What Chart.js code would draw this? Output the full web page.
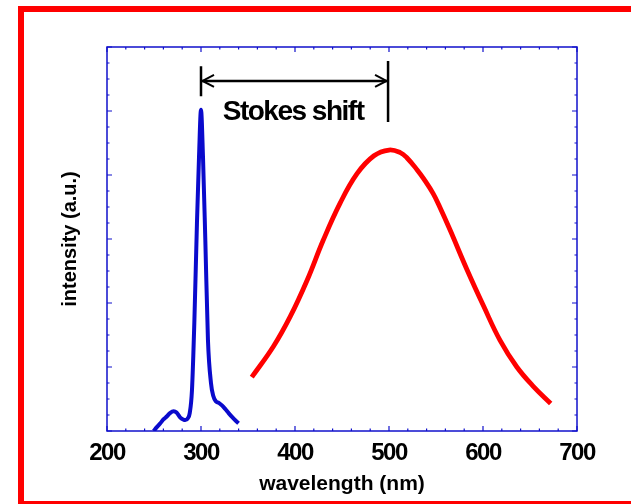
<!DOCTYPE html>
<html>
<head>
<meta charset="utf-8">
<script src="https://cdn.jsdelivr.net/npm/chart.js@4"></script>
<style>
  html, body { margin: 0; padding: 0; background: #fff; }
</style>
</head>
<body>
<canvas id="chart" width="631" height="504"></canvas>
<script>
const X_MIN = 200, X_MAX = 700;
const Y_MIN = 0, Y_MAX = 6;

// excitation band (blue)
const excWavelength = [249.6, 253, 256.7, 260, 263.8, 267, 270.9, 274, 278, 281, 283.3, 286, 288, 290.4, 292.9, 295.7, 297.9, 300, 302.1, 304.6, 307.4, 310.6, 313, 316, 319, 322.3, 326, 329.4, 333, 337, 340];
const excIntensity  = [0.0, 0.06, 0.12, 0.18, 0.23, 0.28, 0.31, 0.29, 0.21, 0.18, 0.17, 0.2, 0.28, 0.64, 1.69, 3.25, 4.29, 5.02, 4.29, 2.98, 1.42, 0.75, 0.55, 0.46, 0.44, 0.4, 0.34, 0.28, 0.22, 0.16, 0.12];

// emission band (red)
const emWavelength = [354, 377, 395, 413, 430, 448, 466, 484, 500, 512, 519, 530, 537, 547, 554, 565, 583, 601, 618, 636, 654, 672];
const emIntensity  = [0.84, 1.32, 1.79, 2.36, 2.98, 3.56, 4.02, 4.30, 4.39, 4.35, 4.27, 4.08, 3.94, 3.71, 3.50, 3.14, 2.52, 1.94, 1.42, 1.0, 0.69, 0.43];

// Stokes shift marker
const shiftFrom = 300, shiftTo = 499;
const shiftLeftBar = [5.23, 5.70];
const shiftRightBar = [4.83, 5.78];
const shiftArrowY = 5.47;
const shiftLabel = 'Stokes shift';
const shiftLabelAt = [398, 4.86];

const FONT = '"Liberation Sans", Arial, sans-serif';
const AXIS_BLUE = '#1010cc';

const toXY = (xs, ys) => xs.map((x, i) => ({ x, y: ys[i] }));

const framePlugin = {
  id: 'frame',
  beforeDraw(chart) {
    const { ctx, width, height } = chart;
    ctx.save();
    ctx.fillStyle = '#fff';
    ctx.fillRect(0, 0, width, height);
    ctx.strokeStyle = '#ff0000';
    ctx.lineWidth = 6;
    ctx.strokeRect(21, 9, width, height - 9);
    ctx.restore();

    // tick numbers in the original are set tight
    const xs = chart.scales.x;
    if (!xs._tight) {
      const drawLabels = xs.drawLabels;
      xs.drawLabels = function (area) {
        this.ctx.letterSpacing = '-1.5px';
        drawLabels.call(this, area);
        this.ctx.letterSpacing = '0px';
      };
      xs._tight = true;
    }
  },
  beforeDatasetsDraw(chart) {
    const { ctx, chartArea: a, scales: { x, y } } = chart;
    ctx.save();
    ctx.strokeStyle = AXIS_BLUE;
    ctx.lineWidth = 1.5;
    ctx.strokeRect(a.left, a.top, a.right - a.left, a.bottom - a.top);
    ctx.lineWidth = 1.2;
    ctx.beginPath();
    for (let v = X_MIN; v <= X_MAX; v += 20) {
      const px = x.getPixelForValue(v);
      const len = v % 100 === 0 ? 5 : 2.5;
      ctx.moveTo(px, a.bottom); ctx.lineTo(px, a.bottom - len);
      ctx.moveTo(px, a.top); ctx.lineTo(px, a.top + len);
    }
    for (let v = Y_MIN; v <= Y_MAX + 1e-9; v += 0.25) {
      const py = y.getPixelForValue(v);
      const len = Math.abs(v - Math.round(v)) < 1e-9 ? 5 : 2.5;
      ctx.moveTo(a.left, py); ctx.lineTo(a.left + len, py);
      ctx.moveTo(a.right, py); ctx.lineTo(a.right - len, py);
    }
    ctx.stroke();
    ctx.restore();
  },
  afterDatasetsDraw(chart) {
    const { ctx, scales: { x, y } } = chart;
    const x1 = x.getPixelForValue(shiftFrom), x2 = x.getPixelForValue(shiftTo);
    const ay = y.getPixelForValue(shiftArrowY);
    ctx.save();
    ctx.strokeStyle = '#000';
    ctx.lineWidth = 2.5;
    ctx.beginPath();
    ctx.moveTo(x1, y.getPixelForValue(shiftLeftBar[0])); ctx.lineTo(x1, y.getPixelForValue(shiftLeftBar[1]));
    ctx.moveTo(x2, y.getPixelForValue(shiftRightBar[0])); ctx.lineTo(x2, y.getPixelForValue(shiftRightBar[1]));
    ctx.moveTo(x1 + 1, ay); ctx.lineTo(x2 - 1, ay);
    ctx.stroke();
    ctx.lineWidth = 2;
    ctx.beginPath();
    ctx.moveTo(x1 + 13, ay - 6); ctx.lineTo(x1 + 1.5, ay); ctx.lineTo(x1 + 13, ay + 6);
    ctx.moveTo(x2 - 13, ay - 6); ctx.lineTo(x2 - 1.5, ay); ctx.lineTo(x2 - 13, ay + 6);
    ctx.stroke();
    ctx.fillStyle = '#000';
    ctx.font = 'bold 28px ' + FONT;
    ctx.letterSpacing = '-1.5px';
    ctx.textAlign = 'center';
    ctx.textBaseline = 'alphabetic';
    ctx.fillText(shiftLabel, x.getPixelForValue(shiftLabelAt[0]), y.getPixelForValue(shiftLabelAt[1]));
    ctx.restore();
  }
};

new Chart(document.getElementById('chart'), {
  type: 'line',
  data: {
    datasets: [
      { label: 'excitation', data: toXY(excWavelength, excIntensity), borderColor: '#0a0acc', borderWidth: 4, pointRadius: 0, cubicInterpolationMode: 'monotone', fill: false },
      { label: 'emission', data: toXY(emWavelength, emIntensity), borderColor: '#ff0000', borderWidth: 4.8, pointRadius: 0, tension: 0.4, fill: false }
    ]
  },
  options: {
    responsive: false,
    animation: false,
    layout: { padding: { top: 47, right: 54, left: 0, bottom: 0 } },
    plugins: { legend: { display: false }, tooltip: { enabled: false } },
    scales: {
      x: {
        type: 'linear', min: X_MIN, max: X_MAX,
        afterFit(s) { s.height = 73; },
        grid: { display: false, drawTicks: false },
        border: { display: false },
        ticks: { stepSize: 100, color: '#000', padding: 8, font: { family: FONT, size: 24, weight: 'bold' } },
        title: { display: true, text: 'wavelength (nm)', color: '#000', padding: { top: 0, bottom: 7 }, font: { family: FONT, size: 21, weight: 'bold' } }
      },
      y: {
        type: 'linear', min: Y_MIN, max: Y_MAX,
        afterFit(s) { s.width = 107; },
        grid: { display: false, drawTicks: false },
        border: { display: false },
        ticks: { display: false },
        title: { display: true, text: 'intensity (a.u.)', color: '#000', padding: { top: 58.5, bottom: 0 }, font: { family: FONT, size: 20, weight: 'bold' } }
      }
    }
  },
  plugins: [framePlugin]
});
</script>
</body>
</html>
